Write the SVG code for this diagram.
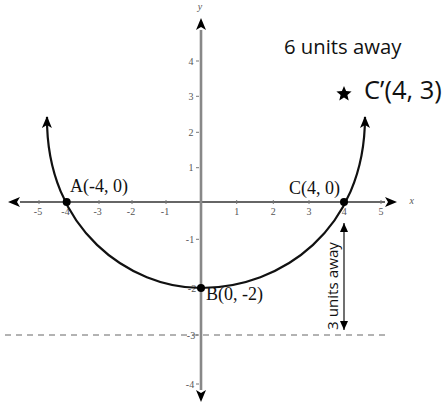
<svg xmlns="http://www.w3.org/2000/svg" width="442" height="406" viewBox="0 0 442 406">
<style>
.tick{font-family:"Liberation Serif",serif;font-size:10px;fill:#555;text-anchor:middle}
.lbl{font-family:"Liberation Serif",serif;font-size:18px;fill:#111}
.sans{font-family:"Open Sans","Noto Sans",sans-serif;fill:#111}
.tk{stroke:#777;stroke-width:1}
</style>
<defs>
<marker id="ah" markerUnits="userSpaceOnUse" markerWidth="12" markerHeight="10" refX="11" refY="5" orient="auto-start-reverse" viewBox="0 0 12 10">
<path d="M0,0 L12,5 L0,10 L3,5 z" fill="#000"/>
</marker>
<marker id="sa" markerUnits="userSpaceOnUse" markerWidth="9" markerHeight="8" refX="9" refY="4" orient="auto-start-reverse" viewBox="0 0 9 8">
<path d="M0,0 L9,4 L0,8 z" fill="#000"/>
</marker>
</defs>
<rect width="442" height="406" fill="#fff"/>
<g id="axes">
<line x1="20" y1="202" x2="385" y2="202" stroke="#666" stroke-width="1.8"/>
<path d="M8,202 L20,197 L17,202 L20,207 z" fill="#000"/>
<path d="M397,202 L385,197 L388,202 L385,207 z" fill="#000"/>
<line x1="201" y1="30" x2="201" y2="390" stroke="#888" stroke-width="2.6"/>
<path d="M201,18 L196,30 L201,27 L206,30 z" fill="#000"/>
<path d="M201,402 L196,390 L201,393 L206,390 z" fill="#000"/>
<g class="tk">
<line x1="39" y1="200" x2="39" y2="204"/><line x1="66.7" y1="200" x2="66.7" y2="204"/><line x1="99" y1="200" x2="99" y2="204"/><line x1="132" y1="200" x2="132" y2="204"/><line x1="166" y1="200" x2="166" y2="204"/>
<line x1="236.7" y1="200" x2="236.7" y2="204"/><line x1="273.3" y1="200" x2="273.3" y2="204"/><line x1="309" y1="200" x2="309" y2="204"/><line x1="344.3" y1="200" x2="344.3" y2="204"/><line x1="381" y1="200" x2="381" y2="204"/>
<line x1="196" y1="61" x2="199" y2="61"/><line x1="196" y1="96.3" x2="199" y2="96.3"/><line x1="196" y1="132.3" x2="199" y2="132.3"/><line x1="196" y1="167.7" x2="199" y2="167.7"/>
<line x1="196" y1="239.3" x2="199" y2="239.3"/><line x1="196" y1="335" x2="199" y2="335"/><line x1="196" y1="384" x2="199" y2="384"/>
</g>
<g class="tick">
<text x="38" y="215">-5</text><text x="65.5" y="215">-4</text><text x="97.7" y="215">-3</text><text x="131" y="215">-2</text><text x="165" y="215">-1</text>
<text x="236.7" y="215">1</text><text x="273.3" y="215">2</text><text x="309" y="215">3</text><text x="344.3" y="215">4</text><text x="381" y="215">5</text>
<text x="191" y="64.5">4</text><text x="191" y="99.8">3</text><text x="191" y="135.8">2</text><text x="191" y="171.2">1</text>
<text x="190" y="242.8">-1</text><text x="192" y="291.5">-2</text><text x="191" y="338.5">-3</text><text x="190" y="387.5">-4</text>
<text x="200" y="10" font-style="italic">y</text><text x="411.7" y="204" font-style="italic">x</text>
</g>
</g>
<line id="dashed" x1="5" y1="335" x2="385" y2="335" stroke="#666" stroke-width="1" stroke-dasharray="6,5"/>
<g id="curve">
<path d="M47,117 C46,230 130,288 201,288 C281,288 365,230 365,117" fill="none" stroke="#111" stroke-width="2.2" marker-start="url(#ah)" marker-end="url(#ah)"/>
</g>
<g id="pointA"><circle cx="66.7" cy="202" r="4" fill="#000"/><text class="lbl" x="70" y="192">A(-4, 0)</text></g>
<g id="pointB"><circle cx="201" cy="288" r="4" fill="#000"/><text class="lbl" x="206" y="300">B(0, -2)</text></g>
<g id="pointC"><circle cx="344" cy="202" r="4" fill="#000"/><text class="lbl" x="289" y="194">C(4, 0)</text></g>
<g id="pointCprime">
<path d="M344,86 L346.1,91.1 L351.6,91.5 L347.4,95 L348.7,100.4 L344,97.5 L339.3,100.4 L340.6,95 L336.4,91.5 L341.9,91.1 z" fill="#000"/>
<text class="sans" x="364" y="99" font-size="25.5">C’(4, 3)</text>
</g>
<text id="sixaway" class="sans" x="284" y="54" font-size="20.3">6 units away</text>
<g id="connectors">
<line x1="344" y1="223" x2="344" y2="330" stroke="#111" stroke-width="1.2" marker-start="url(#sa)" marker-end="url(#sa)"/>
<text class="sans" font-size="15.2" text-anchor="middle" transform="translate(338,286) rotate(-90)">3 units away</text>
</g>
</svg>
